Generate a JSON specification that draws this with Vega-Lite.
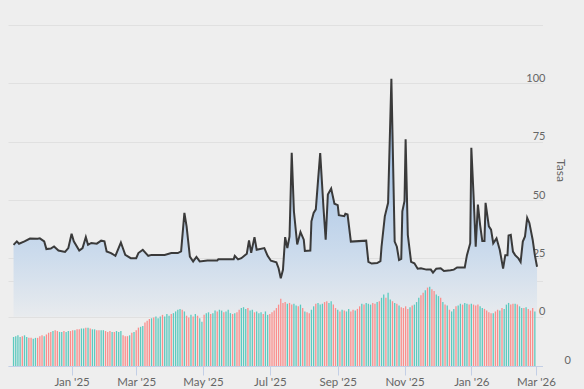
{
  "$schema": "https://vega.github.io/schema/vega-lite/v6.json",
  "width": 534.5,
  "height": 341,
  "autosize": {"type": "none"},
  "padding": {"left": 8, "top": 25, "right": 41.5, "bottom": 23},
  "background": "#eeeeee",
  "config": {
    "view": {"stroke": null},
    "font": "Lato",
    "axis": {"labelFont": "Lato", "titleFont": "Lato", "labelColor": "#666666", "titleColor": "#666666", "labelFontSize": 11}
  },
  "datasets": {
    "rate": [
      {"d":"2024-11-09","t":30.8},{"d":"2024-11-12","t":32.3},{"d":"2024-11-14","t":31.3},{"d":"2024-11-19","t":32.3},{"d":"2024-11-24","t":33.5},
      {"d":"2024-12-01","t":33.4},{"d":"2024-12-03","t":33.6},{"d":"2024-12-07","t":32.3},{"d":"2024-12-09","t":29},{"d":"2024-12-13","t":29.2},
      {"d":"2024-12-16","t":30.1},{"d":"2024-12-20","t":28.4},{"d":"2024-12-26","t":27.8},{"d":"2024-12-29","t":29.4},{"d":"2025-01-01","t":35.6},
      {"d":"2025-01-03","t":32.3},{"d":"2025-01-08","t":28.4},{"d":"2025-01-11","t":29.4},{"d":"2025-01-14","t":34.1},{"d":"2025-01-16","t":30.8},
      {"d":"2025-01-19","t":31.6},{"d":"2025-01-24","t":31.3},{"d":"2025-01-28","t":32.6},{"d":"2025-01-31","t":32.3},{"d":"2025-02-02","t":28},
      {"d":"2025-02-06","t":27.3},{"d":"2025-02-10","t":26.1},{"d":"2025-02-15","t":31.8},{"d":"2025-02-19","t":26.5},{"d":"2025-02-24","t":25.1},
      {"d":"2025-03-01","t":25.1},{"d":"2025-03-03","t":27.3},{"d":"2025-03-07","t":28.7},{"d":"2025-03-12","t":26.1},{"d":"2025-03-15","t":26.5},
      {"d":"2025-03-27","t":26.5},{"d":"2025-04-02","t":27.3},{"d":"2025-04-08","t":27.3},{"d":"2025-04-11","t":28},{"d":"2025-04-14","t":44.5},
      {"d":"2025-04-16","t":38.7},{"d":"2025-04-19","t":25.8},{"d":"2025-04-22","t":23.7},{"d":"2025-04-25","t":25.6},{"d":"2025-04-28","t":23.7},
      {"d":"2025-05-05","t":24.1},{"d":"2025-05-14","t":24.1},{"d":"2025-05-15","t":24.6},{"d":"2025-05-29","t":24.6},{"d":"2025-05-30","t":26.1},
      {"d":"2025-06-02","t":24.6},{"d":"2025-06-05","t":25.1},{"d":"2025-06-10","t":27},{"d":"2025-06-12","t":32.7},{"d":"2025-06-14","t":27.4},
      {"d":"2025-06-17","t":34.1},{"d":"2025-06-19","t":28.7},{"d":"2025-06-26","t":29.4},{"d":"2025-06-29","t":26.1},{"d":"2025-07-02","t":24},
      {"d":"2025-07-07","t":23.3},{"d":"2025-07-09","t":20.8},{"d":"2025-07-11","t":16.5},{"d":"2025-07-13","t":20.1},{"d":"2025-07-15","t":34.1},
      {"d":"2025-07-17","t":29.4},{"d":"2025-07-19","t":34.4},{"d":"2025-07-21","t":70.3},{"d":"2025-07-23","t":45.2},{"d":"2025-07-26","t":31},
      {"d":"2025-07-29","t":36.3},{"d":"2025-08-01","t":33},{"d":"2025-08-02","t":28.2},{"d":"2025-08-07","t":28.4},{"d":"2025-08-08","t":40.9},
      {"d":"2025-08-10","t":44.5},{"d":"2025-08-12","t":46},{"d":"2025-08-14","t":58.2},{"d":"2025-08-16","t":70.1},{"d":"2025-08-19","t":46.7},
      {"d":"2025-08-21","t":33},{"d":"2025-08-23","t":52.4},{"d":"2025-08-26","t":54.9},{"d":"2025-08-29","t":48.4},{"d":"2025-09-01","t":47.8},
      {"d":"2025-09-02","t":43.5},{"d":"2025-09-07","t":43.1},{"d":"2025-09-08","t":44.1},{"d":"2025-09-10","t":43.8},{"d":"2025-09-13","t":32.2},
      {"d":"2025-09-27","t":32.6},{"d":"2025-09-29","t":23.5},{"d":"2025-10-02","t":22.8},{"d":"2025-10-07","t":23},{"d":"2025-10-10","t":23.8},
      {"d":"2025-10-11","t":30},{"d":"2025-10-14","t":43},{"d":"2025-10-17","t":48.8},{"d":"2025-10-20","t":102},{"d":"2025-10-23","t":32.2},
      {"d":"2025-10-25","t":30},{"d":"2025-10-27","t":24.3},{"d":"2025-10-29","t":24.8},{"d":"2025-10-30","t":45.2},{"d":"2025-11-01","t":49.6},
      {"d":"2025-11-02","t":76},{"d":"2025-11-04","t":35.1},{"d":"2025-11-07","t":23.5},{"d":"2025-11-10","t":22.9},{"d":"2025-11-13","t":20.6},
      {"d":"2025-11-16","t":20.8},{"d":"2025-11-21","t":20.2},{"d":"2025-11-25","t":20.2},{"d":"2025-11-27","t":18.9},{"d":"2025-11-30","t":20.6},
      {"d":"2025-12-04","t":20.8},{"d":"2025-12-07","t":19.6},{"d":"2025-12-13","t":19.9},{"d":"2025-12-16","t":20.2},{"d":"2025-12-19","t":21.1},
      {"d":"2025-12-26","t":21.1},{"d":"2025-12-28","t":26.4},{"d":"2025-12-31","t":31.5},{"d":"2026-01-01","t":72.4},{"d":"2026-01-03","t":52.4},
      {"d":"2026-01-05","t":30},{"d":"2026-01-07","t":48.1},{"d":"2026-01-09","t":39.4},{"d":"2026-01-11","t":32.5},{"d":"2026-01-13","t":32.5},
      {"d":"2026-01-14","t":48.8},{"d":"2026-01-17","t":38.7},{"d":"2026-01-19","t":37.3},{"d":"2026-01-21","t":31.5},{"d":"2026-01-24","t":33.6},
      {"d":"2026-01-27","t":28.6},{"d":"2026-01-30","t":20.6},{"d":"2026-02-01","t":26.4},{"d":"2026-02-03","t":26.4},{"d":"2026-02-04","t":34.8},
      {"d":"2026-02-06","t":35.1},{"d":"2026-02-08","t":27.9},{"d":"2026-02-10","t":26.4},{"d":"2026-02-13","t":25},{"d":"2026-02-15","t":23.5},
      {"d":"2026-02-17","t":32.2},{"d":"2026-02-19","t":34.4},{"d":"2026-02-21","t":42.4},{"d":"2026-02-23","t":40.2},{"d":"2026-02-26","t":33},
      {"d":"2026-02-28","t":26.4},{"d":"2026-03-02","t":21.4}
    ],
    "vol": [
      {"d":"2024-11-09","v":34,"s":"u"},{"d":"2024-11-11","v":35,"s":"u"},{"d":"2024-11-13","v":36,"s":"u"},{"d":"2024-11-15","v":34,"s":"u"},{"d":"2024-11-17","v":35,"s":"d"},{"d":"2024-11-19","v":36,"s":"u"},{"d":"2024-11-21","v":34,"s":"u"},{"d":"2024-11-23","v":33,"s":"d"},{"d":"2024-11-25","v":33,"s":"d"},{"d":"2024-11-27","v":32,"s":"u"},{"d":"2024-11-29","v":33,"s":"u"},
      {"d":"2024-12-01","v":33,"s":"d"},{"d":"2024-12-03","v":35,"s":"d"},{"d":"2024-12-05","v":36,"s":"d"},{"d":"2024-12-07","v":35,"s":"u"},{"d":"2024-12-09","v":37,"s":"d"},{"d":"2024-12-11","v":39,"s":"d"},{"d":"2024-12-13","v":40,"s":"d"},{"d":"2024-12-15","v":41,"s":"u"},{"d":"2024-12-17","v":42,"s":"d"},{"d":"2024-12-19","v":41,"s":"d"},{"d":"2024-12-21","v":40,"s":"u"},{"d":"2024-12-23","v":40,"s":"u"},{"d":"2024-12-25","v":41,"s":"d"},{"d":"2024-12-27","v":40,"s":"u"},{"d":"2024-12-29","v":41,"s":"u"},{"d":"2024-12-31","v":41,"s":"d"},
      {"d":"2025-01-02","v":42,"s":"d"},{"d":"2025-01-04","v":42,"s":"u"},{"d":"2025-01-06","v":43,"s":"d"},{"d":"2025-01-08","v":43,"s":"d"},{"d":"2025-01-10","v":44,"s":"u"},{"d":"2025-01-12","v":44,"s":"u"},{"d":"2025-01-14","v":45,"s":"d"},{"d":"2025-01-16","v":45,"s":"u"},{"d":"2025-01-18","v":44,"s":"d"},{"d":"2025-01-20","v":43,"s":"u"},{"d":"2025-01-22","v":43,"s":"u"},{"d":"2025-01-24","v":42,"s":"d"},{"d":"2025-01-26","v":42,"s":"d"},{"d":"2025-01-28","v":42,"s":"u"},{"d":"2025-01-30","v":42,"s":"u"},
      {"d":"2025-02-01","v":41,"s":"d"},{"d":"2025-02-03","v":40,"s":"d"},{"d":"2025-02-05","v":41,"s":"d"},{"d":"2025-02-07","v":40,"s":"u"},{"d":"2025-02-09","v":40,"s":"d"},{"d":"2025-02-11","v":41,"s":"u"},{"d":"2025-02-13","v":40,"s":"u"},{"d":"2025-02-15","v":41,"s":"u"},{"d":"2025-02-17","v":36,"s":"d"},{"d":"2025-02-19","v":35,"s":"d"},{"d":"2025-02-21","v":35,"s":"d"},{"d":"2025-02-23","v":36,"s":"u"},{"d":"2025-02-25","v":39,"s":"d"},{"d":"2025-02-27","v":40,"s":"u"},
      {"d":"2025-03-01","v":42,"s":"d"},{"d":"2025-03-03","v":45,"s":"d"},{"d":"2025-03-05","v":46,"s":"u"},{"d":"2025-03-07","v":47,"s":"u"},{"d":"2025-03-09","v":51,"s":"d"},{"d":"2025-03-11","v":53,"s":"d"},{"d":"2025-03-13","v":55,"s":"d"},{"d":"2025-03-15","v":56,"s":"u"},{"d":"2025-03-17","v":57,"s":"d"},{"d":"2025-03-19","v":58,"s":"u"},{"d":"2025-03-21","v":56,"s":"u"},{"d":"2025-03-23","v":58,"s":"u"},{"d":"2025-03-25","v":60,"s":"d"},{"d":"2025-03-27","v":58,"s":"u"},{"d":"2025-03-29","v":61,"s":"u"},{"d":"2025-03-31","v":59,"s":"u"},
      {"d":"2025-04-02","v":61,"s":"d"},{"d":"2025-04-04","v":62,"s":"u"},{"d":"2025-04-06","v":64,"s":"u"},{"d":"2025-04-08","v":66,"s":"u"},{"d":"2025-04-10","v":67,"s":"u"},{"d":"2025-04-12","v":66,"s":"d"},{"d":"2025-04-14","v":64,"s":"u"},{"d":"2025-04-16","v":59,"s":"d"},{"d":"2025-04-18","v":57,"s":"d"},{"d":"2025-04-20","v":60,"s":"u"},{"d":"2025-04-22","v":58,"s":"d"},{"d":"2025-04-24","v":61,"s":"u"},{"d":"2025-04-26","v":59,"s":"d"},{"d":"2025-04-28","v":56,"s":"u"},{"d":"2025-04-30","v":52,"s":"u"},
      {"d":"2025-05-02","v":60,"s":"d"},{"d":"2025-05-04","v":62,"s":"u"},{"d":"2025-05-06","v":63,"s":"u"},{"d":"2025-05-08","v":61,"s":"d"},{"d":"2025-05-10","v":62,"s":"u"},{"d":"2025-05-12","v":65,"s":"u"},{"d":"2025-05-14","v":64,"s":"d"},{"d":"2025-05-16","v":66,"s":"u"},{"d":"2025-05-18","v":65,"s":"u"},{"d":"2025-05-20","v":63,"s":"d"},{"d":"2025-05-22","v":64,"s":"u"},{"d":"2025-05-24","v":66,"s":"u"},{"d":"2025-05-26","v":62,"s":"u"},{"d":"2025-05-28","v":61,"s":"d"},{"d":"2025-05-30","v":62,"s":"u"},
      {"d":"2025-06-01","v":63,"s":"d"},{"d":"2025-06-03","v":66,"s":"d"},{"d":"2025-06-05","v":68,"s":"u"},{"d":"2025-06-07","v":69,"s":"u"},{"d":"2025-06-09","v":67,"s":"u"},{"d":"2025-06-11","v":68,"s":"d"},{"d":"2025-06-13","v":65,"s":"u"},{"d":"2025-06-15","v":66,"s":"u"},{"d":"2025-06-17","v":63,"s":"d"},{"d":"2025-06-19","v":64,"s":"u"},{"d":"2025-06-21","v":62,"s":"u"},{"d":"2025-06-23","v":63,"s":"u"},{"d":"2025-06-25","v":61,"s":"d"},{"d":"2025-06-27","v":64,"s":"u"},{"d":"2025-06-29","v":60,"s":"u"},
      {"d":"2025-07-01","v":61,"s":"d"},{"d":"2025-07-03","v":63,"s":"d"},{"d":"2025-07-05","v":65,"s":"d"},{"d":"2025-07-07","v":68,"s":"d"},{"d":"2025-07-09","v":72,"s":"d"},{"d":"2025-07-11","v":79,"s":"d"},{"d":"2025-07-13","v":74,"s":"d"},{"d":"2025-07-15","v":75,"s":"d"},{"d":"2025-07-17","v":73,"s":"u"},{"d":"2025-07-19","v":74,"s":"d"},{"d":"2025-07-21","v":72,"s":"d"},{"d":"2025-07-23","v":73,"s":"u"},{"d":"2025-07-25","v":71,"s":"u"},{"d":"2025-07-27","v":70,"s":"d"},{"d":"2025-07-29","v":72,"s":"u"},{"d":"2025-07-31","v":68,"s":"d"},
      {"d":"2025-08-02","v":64,"s":"u"},{"d":"2025-08-04","v":63,"s":"d"},{"d":"2025-08-06","v":62,"s":"d"},{"d":"2025-08-08","v":66,"s":"u"},{"d":"2025-08-10","v":70,"s":"u"},{"d":"2025-08-12","v":73,"s":"d"},{"d":"2025-08-14","v":74,"s":"u"},{"d":"2025-08-16","v":72,"s":"u"},{"d":"2025-08-18","v":73,"s":"u"},{"d":"2025-08-20","v":75,"s":"d"},{"d":"2025-08-22","v":76,"s":"d"},{"d":"2025-08-24","v":74,"s":"u"},{"d":"2025-08-26","v":76,"s":"u"},{"d":"2025-08-28","v":72,"s":"d"},{"d":"2025-08-30","v":68,"s":"d"},
      {"d":"2025-09-01","v":66,"s":"u"},{"d":"2025-09-03","v":64,"s":"d"},{"d":"2025-09-05","v":66,"s":"u"},{"d":"2025-09-07","v":65,"s":"d"},{"d":"2025-09-09","v":64,"s":"u"},{"d":"2025-09-11","v":67,"s":"u"},{"d":"2025-09-13","v":64,"s":"d"},{"d":"2025-09-15","v":66,"s":"d"},{"d":"2025-09-17","v":65,"s":"u"},{"d":"2025-09-19","v":67,"s":"d"},{"d":"2025-09-21","v":70,"s":"d"},{"d":"2025-09-23","v":73,"s":"u"},{"d":"2025-09-25","v":72,"s":"d"},{"d":"2025-09-27","v":74,"s":"u"},{"d":"2025-09-29","v":73,"s":"u"},
      {"d":"2025-10-01","v":72,"s":"u"},{"d":"2025-10-03","v":74,"s":"d"},{"d":"2025-10-05","v":73,"s":"d"},{"d":"2025-10-07","v":75,"s":"u"},{"d":"2025-10-09","v":76,"s":"d"},{"d":"2025-10-11","v":80,"s":"u"},{"d":"2025-10-13","v":84,"s":"u"},{"d":"2025-10-15","v":80,"s":"d"},{"d":"2025-10-17","v":86,"s":"u"},{"d":"2025-10-19","v":78,"s":"u"},{"d":"2025-10-21","v":76,"s":"d"},{"d":"2025-10-23","v":74,"s":"u"},{"d":"2025-10-25","v":73,"s":"d"},{"d":"2025-10-27","v":71,"s":"u"},{"d":"2025-10-29","v":69,"s":"d"},{"d":"2025-10-31","v":68,"s":"d"},
      {"d":"2025-11-02","v":70,"s":"d"},{"d":"2025-11-04","v":67,"s":"d"},{"d":"2025-11-06","v":69,"s":"u"},{"d":"2025-11-08","v":71,"s":"d"},{"d":"2025-11-10","v":72,"s":"u"},{"d":"2025-11-12","v":75,"s":"u"},{"d":"2025-11-14","v":80,"s":"u"},{"d":"2025-11-16","v":83,"s":"d"},{"d":"2025-11-18","v":86,"s":"d"},{"d":"2025-11-20","v":89,"s":"u"},{"d":"2025-11-22","v":92,"s":"d"},{"d":"2025-11-24","v":93,"s":"u"},{"d":"2025-11-26","v":90,"s":"d"},{"d":"2025-11-28","v":88,"s":"d"},{"d":"2025-11-30","v":84,"s":"u"},
      {"d":"2025-12-02","v":82,"s":"u"},{"d":"2025-12-04","v":80,"s":"d"},{"d":"2025-12-06","v":75,"s":"u"},{"d":"2025-12-08","v":72,"s":"d"},{"d":"2025-12-10","v":71,"s":"u"},{"d":"2025-12-12","v":66,"s":"d"},{"d":"2025-12-14","v":64,"s":"u"},{"d":"2025-12-16","v":67,"s":"u"},{"d":"2025-12-18","v":70,"s":"d"},{"d":"2025-12-20","v":71,"s":"u"},{"d":"2025-12-22","v":73,"s":"u"},{"d":"2025-12-24","v":72,"s":"d"},{"d":"2025-12-26","v":74,"s":"u"},{"d":"2025-12-28","v":73,"s":"u"},{"d":"2025-12-30","v":72,"s":"d"},
      {"d":"2026-01-01","v":73,"s":"u"},{"d":"2026-01-03","v":72,"s":"d"},{"d":"2026-01-05","v":71,"s":"d"},{"d":"2026-01-07","v":72,"s":"d"},{"d":"2026-01-09","v":70,"s":"u"},{"d":"2026-01-11","v":68,"s":"u"},{"d":"2026-01-13","v":67,"s":"d"},{"d":"2026-01-15","v":65,"s":"d"},{"d":"2026-01-17","v":63,"s":"d"},{"d":"2026-01-19","v":62,"s":"d"},{"d":"2026-01-21","v":62,"s":"u"},{"d":"2026-01-23","v":64,"s":"d"},{"d":"2026-01-25","v":66,"s":"d"},{"d":"2026-01-27","v":65,"s":"u"},{"d":"2026-01-29","v":68,"s":"d"},{"d":"2026-01-31","v":67,"s":"u"},
      {"d":"2026-02-02","v":72,"s":"u"},{"d":"2026-02-04","v":74,"s":"u"},{"d":"2026-02-06","v":72,"s":"d"},{"d":"2026-02-08","v":73,"s":"d"},{"d":"2026-02-10","v":73,"s":"u"},{"d":"2026-02-12","v":72,"s":"d"},{"d":"2026-02-14","v":70,"s":"u"},{"d":"2026-02-16","v":68,"s":"u"},{"d":"2026-02-18","v":68,"s":"d"},{"d":"2026-02-20","v":69,"s":"u"},{"d":"2026-02-22","v":67,"s":"d"},{"d":"2026-02-24","v":65,"s":"d"},{"d":"2026-02-26","v":68,"s":"d"},{"d":"2026-02-28","v":64,"s":"u"}
    ]
  },
  "layer": [
    {
      "data": {"name": "rate"},
      "mark": {
        "type": "area",
        "color": {
          "gradient": "linear", "x1": 0, "x2": 0, "y1": 0, "y2": 1,
          "stops": [
            {"offset": 0, "color": "#8db4e2"},
            {"offset": 0.5, "color": "#b7cee8"},
            {"offset": 0.72, "color": "#cadaec"},
            {"offset": 1, "color": "#e8ebee"}
          ]
        }
      },
      "encoding": {
        "x": {
          "field": "d", "type": "temporal",
          "scale": {"type": "utc", "domain": ["2024-11-08T12:00:00Z", "2026-03-02T10:00:00Z"]},
          "axis": {
            "title": null,
            "values": [
              {"year": 2025, "month": 1, "date": 1, "utc": true},
              {"year": 2025, "month": 3, "date": 1, "utc": true},
              {"year": 2025, "month": 5, "date": 1, "utc": true},
              {"year": 2025, "month": 7, "date": 1, "utc": true},
              {"year": 2025, "month": 9, "date": 1, "utc": true},
              {"year": 2025, "month": 11, "date": 1, "utc": true},
              {"year": 2026, "month": 1, "date": 1, "utc": true},
              {"year": 2026, "month": 3, "date": 1, "utc": true}
            ],
            "labelExpr": "utcFormat(datum.value, \"%b '%y\")",
            "grid": false,
            "domainColor": "#c3cfe6",
            "domainWidth": 1,
            "tickColor": "#c3cfe6",
            "tickSize": 9,
            "labelPadding": 1,
            "labelColor": "#666666",
            "labelFontSize": 11.5,
            "labelFlush": false,
            "labelOverlap": false
          }
        },
        "y": {
          "field": "t", "type": "quantitative",
          "scale": {"domain": [-21.1, 125], "nice": false, "zero": false},
          "axis": {
            "orient": "right",
            "values": [0, 25, 50, 75, 100, 125],
            "labelExpr": "datum.value == 125 ? '' : datum.label",
            "grid": true,
            "gridColor": "#e0e0e0",
            "domain": false,
            "ticks": false,
            "tickSize": 0,
            "labelAlign": "right",
            "labelPadding": 2.5,
            "labelBaseline": "alphabetic",
            "labelOffset": -2,
            "labelColor": "#666666",
            "title": "Tasa",
            "titleColor": "#666666",
            "titleAngle": 90,
            "titleX": 17.5,
            "titleY": 145,
            "titleAlign": "center",
            "titleBaseline": "middle",
            "titleFontSize": 12,
            "titleFontWeight": "normal"
          }
        },
        "y2": {"datum": 0}
      }
    },
    {
      "data": {"name": "vol"},
      "mark": {"type": "bar", "width": 1.3},
      "encoding": {
        "x": {"field": "d", "type": "temporal"},
        "y": {
          "field": "v", "type": "quantitative",
          "scale": {"domain": [0, 400], "nice": false},
          "axis": {
            "orient": "right",
            "offset": 26,
            "values": [0, 100],
            "labelExpr": "datum.value == 0 ? '0' : ''",
            "grid": true,
            "gridColor": "#e0e0e0",
            "domain": false,
            "ticks": false,
            "tickSize": 0,
            "labelAlign": "right",
            "labelPadding": 2,
            "labelBaseline": "alphabetic",
            "labelOffset": -3,
            "labelColor": "#666666",
            "title": null
          }
        },
        "color": {"field": "s", "type": "nominal", "scale": {"domain": ["u", "d"], "range": ["#5ccabf", "#fa8e8c"]}, "legend": null}
      }
    },
    {
      "data": {"name": "rate"},
      "mark": {"type": "line", "color": "#3a3a3a", "strokeWidth": 2},
      "encoding": {
        "x": {"field": "d", "type": "temporal"},
        "y": {"field": "t", "type": "quantitative", "scale": {"domain": [-21.1, 125], "nice": false, "zero": false}, "axis": null}
      }
    }
  ],
  "resolve": {"scale": {"y": "independent"}}
}
